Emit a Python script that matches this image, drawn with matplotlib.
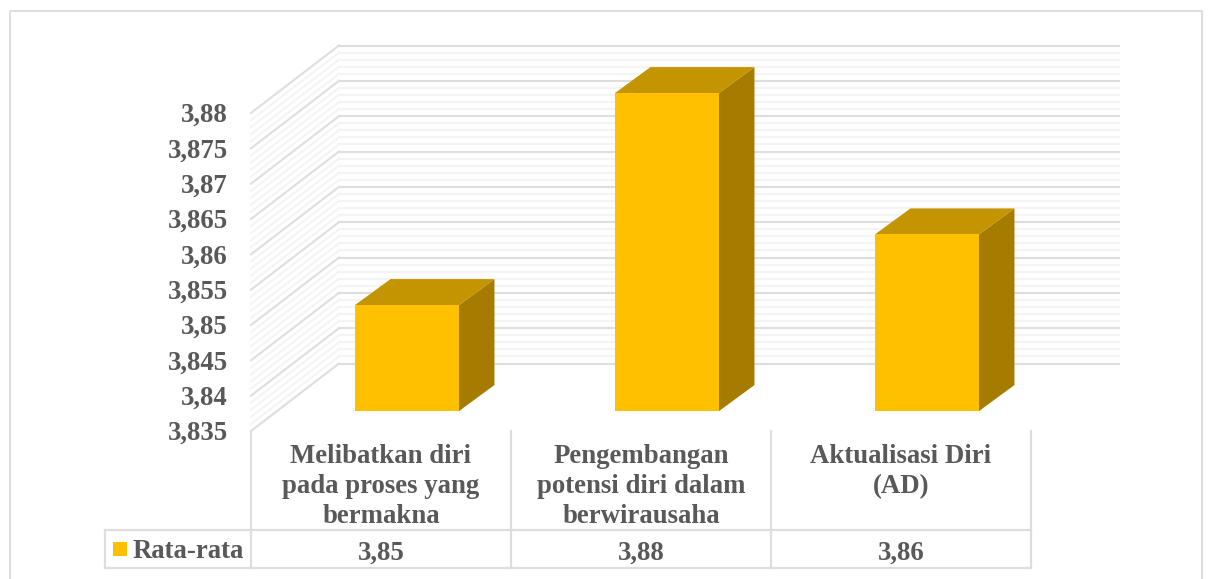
import matplotlib
matplotlib.use("Agg")
import matplotlib.pyplot as plt
from matplotlib.patches import Polygon, Rectangle
from matplotlib.transforms import Affine2D

# data
categories = ["Melibatkan diri\npada proses yang\nbermakna",
              "Pengembangan\npotensi diri dalam\nberwirausaha",
              "Aktualisasi Diri\n(AD)"]
values = [3.85, 3.88, 3.86]
value_labels = ["3,85", "3,88", "3,86"]
series_name = "Rata-rata"
major_ticks = [3.835, 3.84, 3.845, 3.85, 3.855, 3.86, 3.865, 3.87, 3.875, 3.88]
major_labels = ["3,835", "3,84", "3,845", "3,85", "3,855", "3,86", "3,865", "3,87", "3,875", "3,88"]

W, H = 1208, 579
TEXT = "#595959"
GOLD = "#FFC000"
TOP = "#C49500"
SIDE = "#A67C00"
GRID = "#DEDEDE"
MINOR = "#F4F4F4"
FONT = "Liberation Serif"
FS = 19.3

fig = plt.figure(figsize=(W / 100, H / 100), dpi=100)

# pixel overlay for frame and table
pix = fig.add_axes([0, 0, 1, 1])
pix.set_xlim(0, W)
pix.set_ylim(H, 0)
pix.axis("off")

# front plane of the 3d box: x in categories, y in values
ax = fig.add_axes([251 / W, (H - 431) / H, 780 / W, 318 / H])
ax.set_xlim(0, 3)
ax.set_ylim(3.835, 3.88)
ax.axis("off")


def at(d):
    # d = 1.0 is the back wall, 88 px right and 67.5 px up
    return ax.transData + Affine2D().translate(88 * d, 67.5 * d)


# gridlines, 4 minor between each major
for i in range(len(major_ticks)):
    v = major_ticks[i]
    steps = [0] if i == len(major_ticks) - 1 else [0, 1, 2, 3, 4]
    for s in steps:
        y = v + s * 0.001
        c = GRID if s == 0 else MINOR
        z = 2 if s == 0 else 1
        p0 = ax.transData.transform((0, y))
        ax.plot([p0[0], p0[0] + 88], [p0[1], p0[1] + 67.5], color=c, lw=1.5,
                clip_on=False, zorder=z, transform=None)
        ax.plot([0, 3], [y, y], color=c, lw=1.5, clip_on=False, zorder=z, transform=at(1))

# bars
bar_w = 0.4
base = major_ticks[0]
for i, v in enumerate(values):
    x0 = i + 0.5 - bar_w / 2
    x1 = i + 0.5 + bar_w / 2
    t0 = at(0.295)
    px = [t0.transform(p) for p in [(x0, base), (x1, base), (x1, v), (x0, v)]]
    d = (35.5, 26)
    side = [px[1], px[1] + d, px[2] + d, px[2]]
    top = [px[3], px[2], px[2] + d, px[3] + d]
    for pts, col in [(side, SIDE), (top, TOP), (px, GOLD)]:
        fig.add_artist(Polygon(pts, closed=True, facecolor=col, edgecolor="none",
                               transform=None, zorder=5))

# y labels
for v, lab in zip(major_ticks, major_labels):
    y = ax.transData.transform((0, v))[1]
    pix.text(228, H - y + 2.5, lab, ha="right", va="center", family=FONT,
             weight="bold", fontsize=FS, color=TEXT)

# outer frame
pix.add_patch(Rectangle((9.5, 10.5), 1192.5, 580, fill=False, ec=GRID, lw=1.5))

# table
col_x = [251, 511, 771, 1031]
for x in col_x:
    pix.plot([x, x], [431, 568], color=GRID, lw=1.6)
pix.plot([105, 105], [530, 568], color=GRID, lw=1.6)
pix.plot([105, 1031], [530, 530], color=GRID, lw=1.6)
pix.plot([105, 1031], [568, 568], color=GRID, lw=1.6)

for i, (c, lab) in enumerate(zip(categories, value_labels)):
    cx = (col_x[i] + col_x[i + 1]) / 2
    pix.text(cx, 444, c, ha="center", va="top", family=FONT, weight="bold",
             fontsize=FS, color=TEXT, linespacing=1.27)
    pix.text(cx, 553, lab, ha="center", va="center", family=FONT, weight="bold",
             fontsize=FS, color=TEXT)

pix.add_patch(Rectangle((113, 542), 14, 14, fc=GOLD, ec="none"))
pix.text(133, 552, series_name, ha="left", va="center", family=FONT, weight="bold",
         fontsize=FS, color=TEXT)

fig.savefig("out.png", dpi=100, facecolor="white")
